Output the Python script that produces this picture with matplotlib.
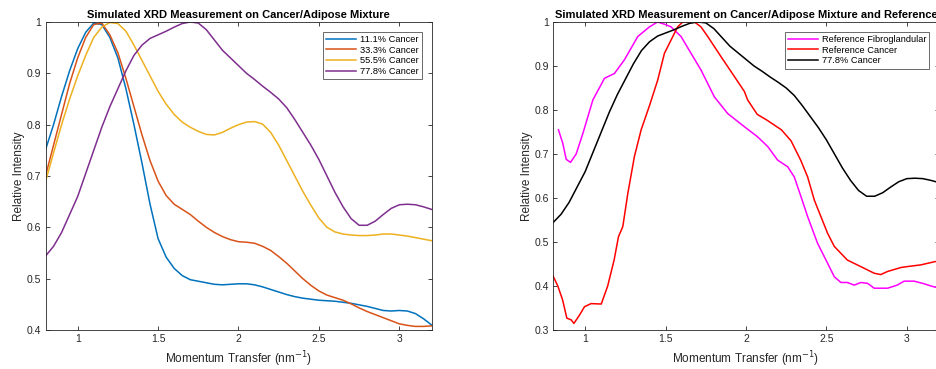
import matplotlib
matplotlib.use("Agg")
import matplotlib.pyplot as plt

plt.rcParams['font.family'] = ['Liberation Sans', 'DejaVu Sans']

# momentum transfer grid for the simulated mixtures (nm^-1)
q = [0.80, 0.85, 0.90, 0.95, 1.00, 1.05, 1.10, 1.15, 1.20, 1.25, 1.30, 1.35,
     1.40, 1.45, 1.50, 1.55, 1.60, 1.65, 1.70, 1.75, 1.80, 1.85, 1.90, 1.95,
     2.00, 2.05, 2.10, 2.15, 2.20, 2.25, 2.30, 2.35, 2.40, 2.45, 2.50, 2.55,
     2.60, 2.65, 2.70, 2.75, 2.80, 2.85, 2.90, 2.95, 3.00, 3.05, 3.10, 3.15, 3.20]

cancer_11 = [0.751, 0.80, 0.855, 0.905, 0.948, 0.98, 0.998, 0.995, 0.97, 0.93, 0.87, 0.80,
             0.725, 0.645, 0.578, 0.542, 0.52, 0.506, 0.498, 0.495, 0.492, 0.489, 0.488, 0.489,
             0.49, 0.49, 0.488, 0.484, 0.479, 0.474, 0.469, 0.465, 0.462, 0.46, 0.458, 0.457,
             0.456, 0.454, 0.452, 0.449, 0.446, 0.442, 0.438, 0.437, 0.438, 0.437, 0.432, 0.422, 0.41]
cancer_33 = [0.70, 0.76, 0.82, 0.88, 0.93, 0.97, 0.995, 0.998, 0.975, 0.94, 0.89, 0.835,
             0.78, 0.73, 0.69, 0.662, 0.645, 0.635, 0.625, 0.612, 0.60, 0.59, 0.582, 0.576,
             0.572, 0.571, 0.569, 0.563, 0.555, 0.543, 0.53, 0.515, 0.50, 0.487, 0.476, 0.468,
             0.463, 0.458, 0.451, 0.443, 0.436, 0.43, 0.424, 0.418, 0.412, 0.409, 0.407, 0.407, 0.408]
cancer_55 = [0.689, 0.745, 0.80, 0.85, 0.895, 0.935, 0.97, 0.99, 0.999, 0.997, 0.982, 0.955,
             0.925, 0.895, 0.865, 0.84, 0.82, 0.805, 0.795, 0.787, 0.781, 0.78, 0.785, 0.793,
             0.80, 0.805, 0.806, 0.801, 0.785, 0.76, 0.73, 0.70, 0.67, 0.643, 0.618, 0.60,
             0.591, 0.587, 0.585, 0.584, 0.584, 0.585, 0.587, 0.587, 0.585, 0.583, 0.58, 0.577, 0.574]
cancer_78 = [0.544, 0.563, 0.59, 0.625, 0.66, 0.705, 0.75, 0.795, 0.835, 0.87, 0.905, 0.935,
             0.955, 0.968, 0.975, 0.982, 0.99, 0.997, 1.0, 0.998, 0.985, 0.965, 0.945, 0.93,
             0.915, 0.90, 0.888, 0.875, 0.863, 0.85, 0.833, 0.81, 0.785, 0.76, 0.732, 0.70,
             0.668, 0.64, 0.617, 0.604, 0.604, 0.612, 0.625, 0.637, 0.644, 0.645, 0.644, 0.64, 0.635]

# measured references
q_fibro = [0.834, 0.861, 0.882, 0.909, 0.944, 0.986, 1.048, 1.12, 1.182, 1.244, 1.327, 1.40,
           1.45, 1.493, 1.534, 1.596, 1.658, 1.72, 1.803, 1.886, 1.99, 2.072, 2.135, 2.197,
           2.259, 2.30, 2.342, 2.383, 2.445, 2.507, 2.549, 2.59, 2.63, 2.673, 2.714, 2.756,
           2.797, 2.88, 2.94, 2.983, 3.046, 3.108, 3.15, 3.18, 3.20]
ref_fibro = [0.755, 0.724, 0.688, 0.681, 0.70, 0.747, 0.823, 0.872, 0.883, 0.914, 0.967, 0.989,
             1.0, 0.995, 0.989, 0.967, 0.929, 0.891, 0.83, 0.792, 0.762, 0.739, 0.717, 0.686,
             0.671, 0.648, 0.603, 0.558, 0.497, 0.452, 0.421, 0.408, 0.408, 0.402, 0.408, 0.406,
             0.395, 0.395, 0.402, 0.411, 0.411, 0.405, 0.40, 0.397, 0.403]
q_cancer = [0.80, 0.83, 0.86, 0.886, 0.913, 0.93, 0.965, 0.996, 1.037, 1.10, 1.14, 1.18,
            1.207, 1.234, 1.265, 1.306, 1.348, 1.40, 1.451, 1.493, 1.534, 1.575, 1.607, 1.68,
            1.72, 1.762, 1.845, 1.928, 1.99, 2.01, 2.07, 2.13, 2.22, 2.28, 2.34, 2.383,
            2.425, 2.507, 2.549, 2.63, 2.714, 2.797, 2.838, 2.88, 2.963, 3.0, 3.087, 3.17, 3.20]
ref_cancer = [0.423, 0.40, 0.368, 0.327, 0.323, 0.315, 0.334, 0.353, 0.36, 0.359, 0.40, 0.459,
              0.512, 0.535, 0.61, 0.694, 0.755, 0.81, 0.868, 0.929, 0.959, 0.989, 1.0, 1.0,
              0.989, 0.967, 0.921, 0.876, 0.842, 0.823, 0.79, 0.777, 0.755, 0.73, 0.686, 0.648,
              0.595, 0.52, 0.49, 0.459, 0.444, 0.429, 0.426, 0.433, 0.442, 0.444, 0.448, 0.455, 0.457]

mix_labels = ['11.1% Cancer', '33.3% Cancer', '55.5% Cancer', '77.8% Cancer']
mix_colors = ['#0072BD', '#D95319', '#EDB120', '#7E2F8E']

TXT = '#262626'

fig = plt.figure(figsize=(9.36, 3.69), dpi=100)
ax1 = fig.add_axes([45.5 / 936, 39 / 369, 386 / 936, 308 / 369])
ax2 = fig.add_axes([553 / 936, 39 / 369, 386 / 936, 308 / 369])


def style(ax, ylo, yticks, title):
    ax.set_xlim(0.8, 3.2)
    ax.set_ylim(ylo, 1.0)
    ax.set_xticks([1, 1.5, 2, 2.5, 3])
    ax.set_xticklabels(['1', '1.5', '2', '2.5', '3'])
    ax.set_yticks(yticks)
    ax.set_yticklabels([('%g' % t) for t in yticks])
    ax.tick_params(direction='in', top=True, right=True, length=3, width=0.6,
                   labelsize=7.5, colors=TXT, pad=3)
    for s in ax.spines.values():
        s.set_color(TXT)
        s.set_linewidth(0.6)
    ax.set_xlabel('Momentum Transfer (nm$^{-1}$)', fontsize=8.5, color=TXT, labelpad=4)
    ax.set_ylabel('Relative Intensity', fontsize=8.5, color=TXT, labelpad=1)
    ax.set_title(title, fontsize=8, fontweight='bold', color='black', pad=3)


def add_legend(ax):
    leg = ax.legend(loc='upper right', fontsize=6.7, frameon=True, fancybox=False,
                    edgecolor=TXT, handlelength=3.2, handletextpad=0.4,
                    labelspacing=0.17, borderpad=0.35, borderaxespad=0,
                    bbox_to_anchor=(0.975, 0.968))
    leg.get_frame().set_linewidth(0.6)


for ys, lab, c in zip([cancer_11, cancer_33, cancer_55, cancer_78], mix_labels, mix_colors):
    ax1.plot(q, ys, color=c, lw=1.1, label=lab)
style(ax1, 0.4, [0.4, 0.5, 0.6, 0.7, 0.8, 0.9, 1.0],
      'Simulated XRD Measurement on Cancer/Adipose Mixture')
add_legend(ax1)

ax2.plot(q_fibro, ref_fibro, color='#FF00FF', lw=1.1, label='Reference Fibroglandular')
ax2.plot(q_cancer, ref_cancer, color='#FF0000', lw=1.1, label='Reference Cancer')
ax2.plot(q, cancer_78, color='black', lw=1.1, label='77.8% Cancer')
style(ax2, 0.3, [0.3, 0.4, 0.5, 0.6, 0.7, 0.8, 0.9, 1.0],
      'Simulated XRD Measurement on Cancer/Adipose Mixture and Reference')
add_legend(ax2)

fig.savefig('out.png', dpi=100)
